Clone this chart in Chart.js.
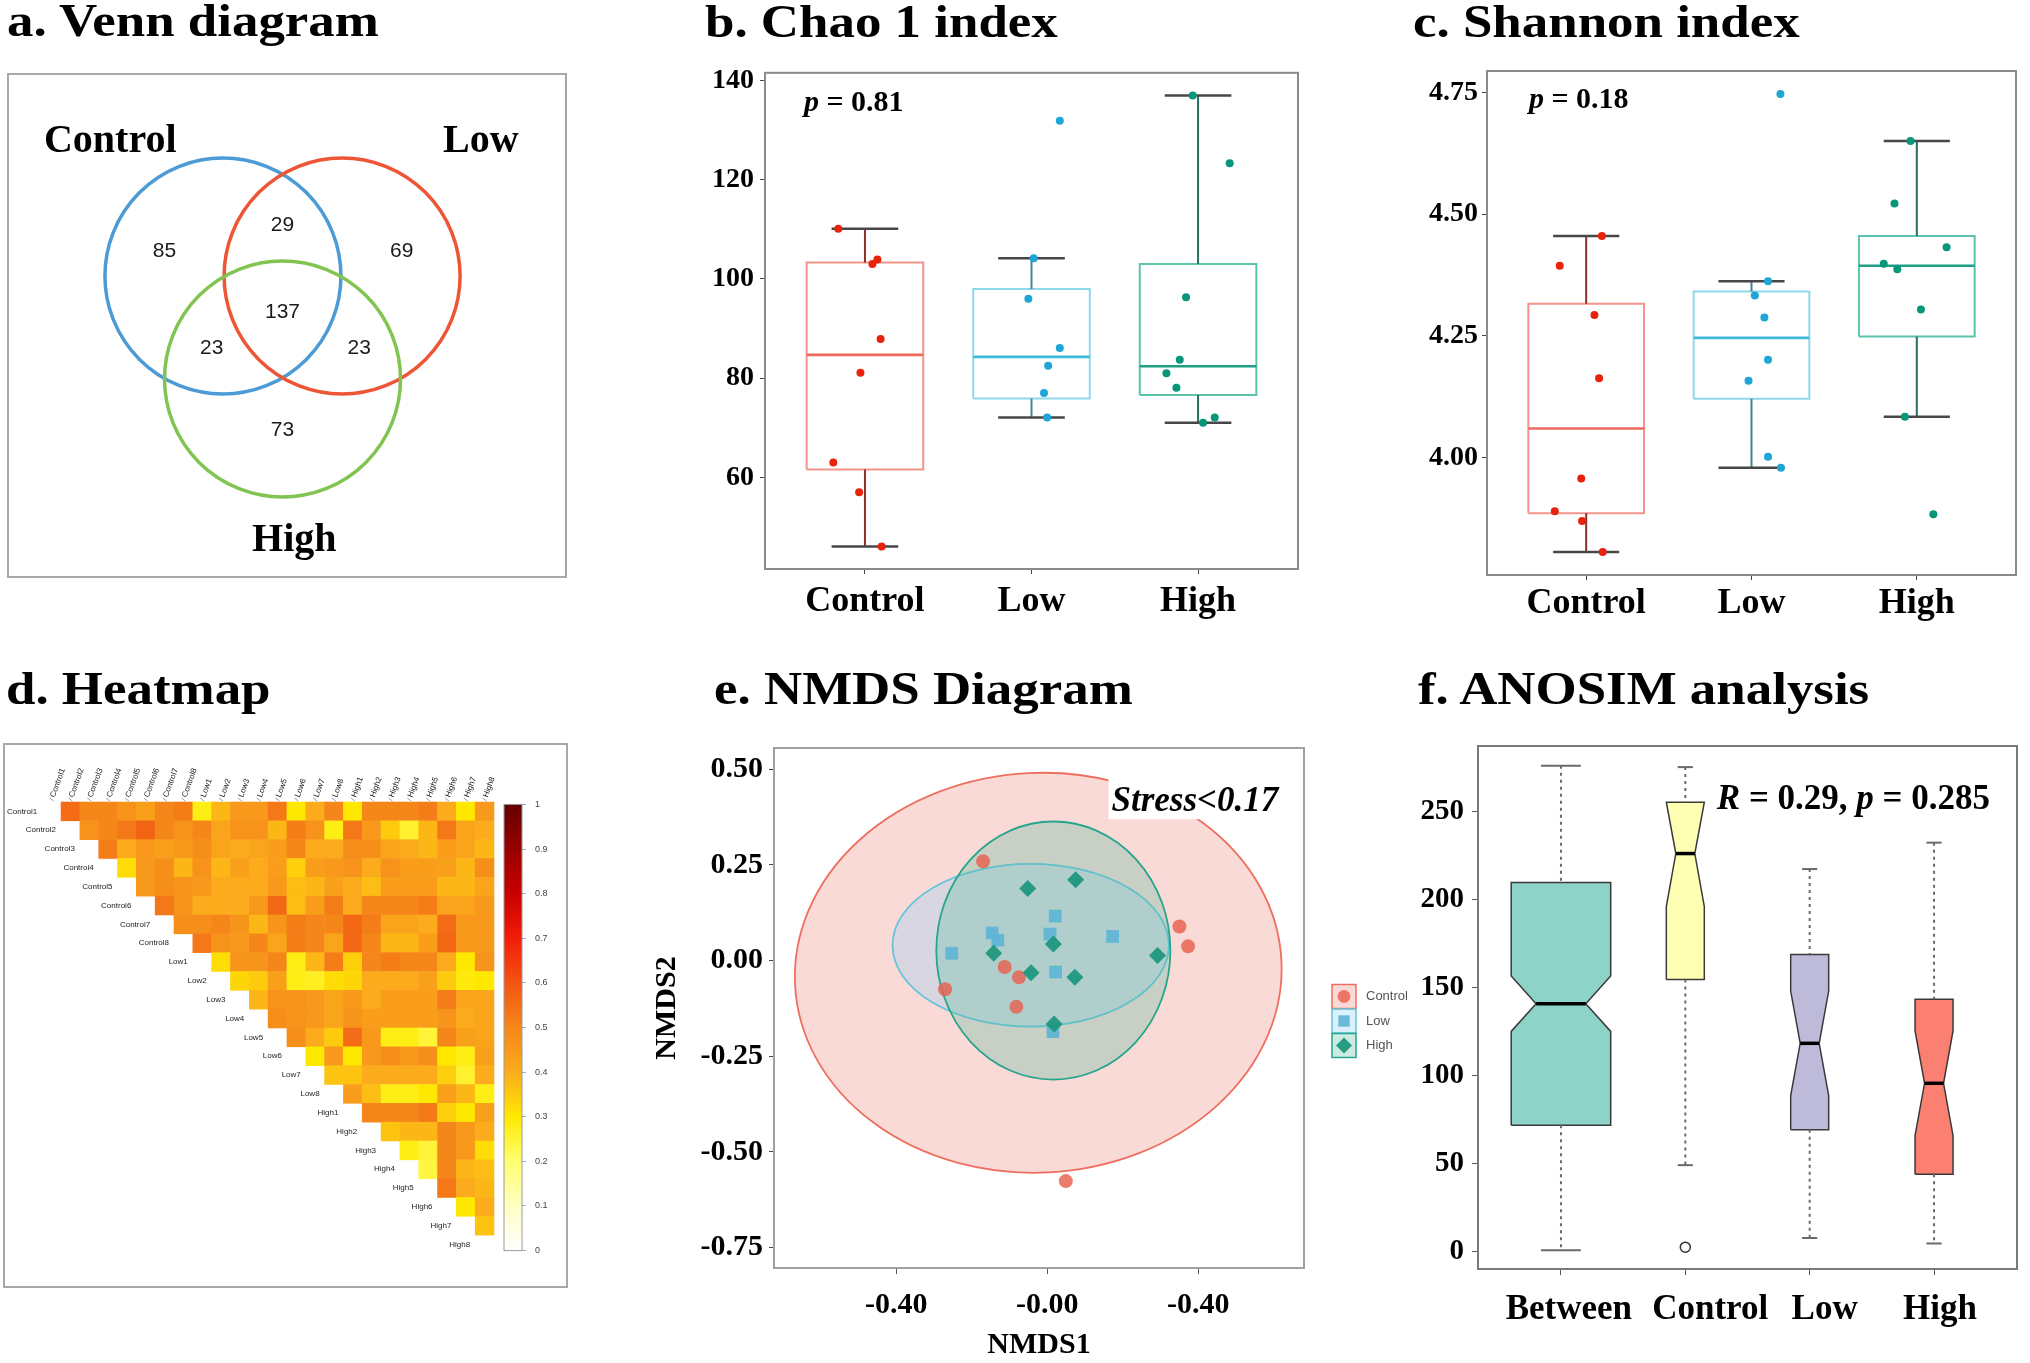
<!DOCTYPE html>
<html>
<head>
<meta charset="utf-8">
<title>Diversity panels</title>
<script src="https://cdn.jsdelivr.net/npm/chart.js@4.4.1/dist/chart.umd.min.js"></script>
<style>
  html, body { margin: 0; padding: 0; background: #fff; }
  body { width: 2030px; height: 1363px; position: relative; overflow: hidden; }
  canvas, .box, .title { position: absolute; }
  .title { font: bold 46px 'Liberation Serif', 'Times New Roman', serif; line-height: 46px; color: #000;
           white-space: nowrap; transform: scaleX(1.15); transform-origin: left top; }
  .box { border: 2px solid #a8a8a8; box-sizing: border-box; pointer-events: none; }
</style>
</head>
<body>
<div class="title" style="left:7px;top:-2px">a. Venn diagram</div>
<div class="title" style="left:705px;top:-1px">b. Chao 1 index</div>
<div class="title" style="left:1413px;top:-1px">c. Shannon index</div>
<div class="title" style="left:6px;top:666px">d. Heatmap</div>
<div class="title" style="left:714px;top:666px">e. NMDS Diagram</div>
<div class="title" style="left:1418px;top:666px">f. ANOSIM analysis</div>

<canvas id="venn" width="560" height="505" style="left:7px;top:73px"></canvas>
<div class="box" style="left:7px;top:73px;width:560px;height:505px"></div>

<canvas id="chao" width="640" height="600" style="left:680px;top:50px"></canvas>
<canvas id="shannon" width="630" height="610" style="left:1400px;top:50px"></canvas>

<canvas id="heat" width="565" height="545" style="left:3px;top:743px"></canvas>
<canvas id="cbar" width="66" height="475" style="left:500px;top:790px"></canvas>
<div class="box" style="left:3px;top:743px;width:565px;height:545px"></div>

<canvas id="nmds" width="790" height="643" style="left:640px;top:720px"></canvas>
<canvas id="anosim" width="630" height="643" style="left:1400px;top:720px"></canvas>

<script>
// ---- data ----
const groups = ['Control', 'Low', 'High'];

// a. Venn diagram (circle centres in radius units, counts per region)
const vennSets = ['Control', 'Low', 'High'];
const vennCenterX = [-0.505, 0.505, 0];
const vennCenterY = [0, 0, -0.873];
const vennRadius = 1;
const vennCounts = [85, 29, 69, 137, 23, 23, 73];
const vennCountX = [-1.0, 0.0, 1.01, 0.0, -0.6, 0.65, 0.0];
const vennCountY = [0.21, 0.43, 0.21, -0.31, -0.61, -0.61, -1.31];
const vennNameX = [-1.46, 1.68, 0.10];
const vennNameY = [1.05, 1.05, -2.33];

// b. Chao 1 index
const chaoMin = [46.1, 72.1, 71.0];
const chaoQ1 = [61.6, 75.9, 76.6];
const chaoMedian = [84.7, 84.3, 82.4];
const chaoQ3 = [103.3, 98.0, 103.0];
const chaoMax = [110.1, 104.2, 137.0];
const chaoPoints = [
  [110.1, 103.0, 103.9, 87.9, 81.1, 63.0, 57.0, 46.1],
  [131.9, 104.2, 96.0, 86.1, 82.5, 77.0, 72.1],
  [137.0, 123.3, 96.3, 83.7, 81.0, 78.1, 72.1, 71.0]
];
const chaoJitter = [
  [-0.16, 0.045, 0.075, 0.094, -0.027, -0.19, -0.035, 0.1],
  [0.17, 0.013, -0.019, 0.17, 0.10, 0.075, 0.094],
  [-0.032, 0.19, -0.072, -0.11, -0.19, -0.13, 0.10, 0.03]
];
const chaoTicks = [60, 80, 100, 120, 140];

// c. Shannon index
const shanMin = [3.806, 3.979, 4.084];
const shanQ1 = [3.886, 4.121, 4.249];
const shanMedian = [4.060, 4.246, 4.394];
const shanQ3 = [4.316, 4.341, 4.455];
const shanMax = [4.455, 4.362, 4.650];
const shanPoints = [
  [4.455, 4.394, 4.293, 4.163, 3.957, 3.890, 3.870, 3.806],
  [4.747, 4.362, 4.333, 4.288, 4.201, 4.158, 4.002, 3.979],
  [4.650, 4.522, 4.432, 4.398, 4.387, 4.304, 4.084, 3.884]
];
const shanJitter = [
  [0.095, -0.16, 0.05, 0.078, -0.03, -0.19, -0.025, 0.10],
  [0.175, 0.10, 0.02, 0.078, 0.10, -0.018, 0.10, 0.178],
  [-0.038, -0.135, 0.18, -0.2, -0.118, 0.025, -0.072, 0.10]
];
const shanTicks = [4.00, 4.25, 4.50, 4.75];

// d. Heatmap (upper triangle, row i holds columns i+1 .. 23)
const sampleNames = ['Control1', 'Control2', 'Control3', 'Control4', 'Control5', 'Control6', 'Control7', 'Control8',
  'Low1', 'Low2', 'Low3', 'Low4', 'Low5', 'Low6', 'Low7', 'Low8',
  'High1', 'High2', 'High3', 'High4', 'High5', 'High6', 'High7', 'High8'];
const corrRows = [
  [0.55, 0.5, 0.5, 0.47, 0.43, 0.5, 0.52, 0.28, 0.38, 0.45, 0.45, 0.53, 0.3, 0.4, 0.5, 0.3, 0.5, 0.5, 0.5, 0.52, 0.4, 0.3, 0.45],
  [0.47, 0.5, 0.53, 0.57, 0.5, 0.47, 0.5, 0.42, 0.47, 0.47, 0.38, 0.52, 0.47, 0.28, 0.53, 0.45, 0.35, 0.26, 0.38, 0.53, 0.42, 0.4],
  [0.52, 0.4, 0.45, 0.43, 0.45, 0.48, 0.42, 0.4, 0.42, 0.44, 0.5, 0.4, 0.4, 0.48, 0.48, 0.42, 0.4, 0.38, 0.44, 0.42, 0.38],
  [0.32, 0.45, 0.48, 0.38, 0.47, 0.38, 0.43, 0.4, 0.44, 0.34, 0.44, 0.45, 0.47, 0.4, 0.47, 0.44, 0.44, 0.43, 0.38, 0.48],
  [0.45, 0.48, 0.47, 0.45, 0.4, 0.4, 0.4, 0.45, 0.37, 0.38, 0.43, 0.4, 0.37, 0.44, 0.44, 0.44, 0.38, 0.38, 0.42],
  [0.53, 0.47, 0.4, 0.4, 0.4, 0.45, 0.56, 0.37, 0.44, 0.52, 0.4, 0.5, 0.5, 0.5, 0.52, 0.42, 0.42, 0.45],
  [0.48, 0.48, 0.5, 0.46, 0.38, 0.46, 0.52, 0.5, 0.5, 0.56, 0.52, 0.42, 0.42, 0.4, 0.55, 0.45, 0.45],
  [0.53, 0.47, 0.45, 0.5, 0.42, 0.52, 0.5, 0.42, 0.56, 0.5, 0.38, 0.38, 0.44, 0.56, 0.45, 0.45],
  [0.32, 0.46, 0.46, 0.5, 0.28, 0.38, 0.52, 0.34, 0.5, 0.52, 0.5, 0.5, 0.4, 0.3, 0.47],
  [0.33, 0.35, 0.43, 0.28, 0.27, 0.32, 0.33, 0.4, 0.4, 0.4, 0.43, 0.35, 0.29, 0.3],
  [0.38, 0.47, 0.46, 0.45, 0.42, 0.45, 0.4, 0.44, 0.44, 0.44, 0.52, 0.42, 0.42],
  [0.48, 0.46, 0.45, 0.42, 0.46, 0.44, 0.44, 0.44, 0.44, 0.46, 0.4, 0.42],
  [0.48, 0.4, 0.35, 0.55, 0.45, 0.28, 0.28, 0.25, 0.5, 0.43, 0.42],
  [0.3, 0.45, 0.3, 0.45, 0.48, 0.45, 0.48, 0.3, 0.28, 0.43],
  [0.36, 0.36, 0.4, 0.4, 0.4, 0.4, 0.34, 0.26, 0.4],
  [0.44, 0.37, 0.28, 0.28, 0.3, 0.43, 0.38, 0.28],
  [0.5, 0.5, 0.5, 0.53, 0.34, 0.3, 0.43],
  [0.36, 0.38, 0.38, 0.5, 0.45, 0.4],
  [0.28, 0.25, 0.5, 0.45, 0.32],
  [0.24, 0.5, 0.38, 0.37],
  [0.53, 0.4, 0.38],
  [0.3, 0.4],
  [0.36]
];
const colorbarTicks = [0, 0.1, 0.2, 0.3, 0.4, 0.5, 0.6, 0.7, 0.8, 0.9, 1];

// e. NMDS
const nmdsX = [
  [-0.170, 0.350, 0.373, -0.113, -0.075, -0.271, -0.082, 0.049],
  [0.021, -0.146, -0.131, 0.007, 0.173, -0.253, 0.022, 0.015],
  [0.075, -0.052, 0.016, -0.142, 0.292, -0.043, 0.073, 0.018]
];
const nmdsY = [
  [0.259, 0.089, 0.037, -0.017, -0.044, -0.075, -0.121, -0.576],
  [0.116, 0.072, 0.053, 0.069, 0.063, 0.019, -0.030, -0.186],
  [0.211, 0.188, 0.043, 0.019, 0.013, -0.032, -0.044, -0.166]
];
const ellipseCx = [-0.024, -0.044, 0.016];
const ellipseCy = [-0.032, 0.040, 0.026];
const ellipseRx = [0.645, 0.366, 0.310];
const ellipseRy = [0.522, 0.2125, 0.337];
const ellipseTilt = [-0.05, 0, 0];
const nmdsXTicks = [-0.4, 0, 0.4];
const nmdsXTickLabels = ['-0.40', '-0.00', '-0.40'];
const nmdsYTicks = [-0.75, -0.5, -0.25, 0, 0.25, 0.5];

// f. ANOSIM
const anoGroups = ['Between', 'Control', 'Low', 'High'];
const anoN = [192, 28, 28, 28];
const anoMin = [0.5, 48.9, 7.5, 4.4];
const anoQ1 = [71.6, 154.3, 69.0, 43.7];
const anoMedian = [140.6, 225.9, 118.1, 95.4];
const anoQ3 = [209.4, 255.1, 168.5, 143.2];
const anoMax = [275.8, 275.0, 217.1, 232.1];
const anoOutlierGroup = [1];
const anoOutlierValue = [2.3];
const anoTicks = [0, 50, 100, 150, 200, 250];

// ---- styles ----
const SERIF = "'Liberation Serif', 'Times New Roman', serif";
const SANS = "'Liberation Sans', Arial, sans-serif";
const vennColors = ['#4d9bd6', '#ee5535', '#82c452'];
const groupColors = [
  { box: '#f4948a', median: '#ee6a5e', whisker: '#8c2f24', point: '#e8230c' },
  { box: '#8fd8ea', median: '#3db9da', whisker: '#4b7f8f', point: '#1ea7d6' },
  { box: '#5cc4ad', median: '#1f9e86', whisker: '#25705f', point: '#07967a' }
];
const heatStops = [
  [0, '#ffffff'], [0.1, '#ffffc4'], [0.2, '#ffff70'], [0.3, '#ffe800'], [0.4, '#fbab1c'],
  [0.5, '#f5871a'], [0.6, '#f25412'], [0.7, '#f31c08'], [0.8, '#c80000'], [0.9, '#980000'], [1, '#640000']
];
const nmdsShapes = ['circle', 'rect', 'rectRot'];
const nmdsRadius = [7, 9, 8.5];
const nmdsPointColors = ['rgba(232,96,78,0.82)', 'rgba(90,180,212,0.88)', 'rgba(26,150,124,0.92)'];
const ellipseFill = ['rgba(238,132,118,0.3)', 'rgba(137,205,247,0.3)', 'rgba(83,185,154,0.3)'];
const ellipseLine = ['#ee6f5f', '#67c4dd', '#25a58c'];
const anoColors = ['#8dd3c7', '#ffffb3', '#bebada', '#fb8072'];
const anoLabelShift = [0.064, 0.2, 0.12, 0.048];

Chart.defaults.animation = false;
Chart.defaults.events = [];
Chart.defaults.plugins.legend.display = false;
Chart.defaults.plugins.tooltip.enabled = false;

// ---- helpers ----
const pxPerUnit = s => Math.abs(s.getPixelForValue(1) - s.getPixelForValue(0));
const boldSerif = size => ({ family: SERIF, size, weight: 'bold' });
const fixedTicks = values => s => { s.ticks = values.map(v => ({ value: v })); };
const fixedWidth = w => s => { s.width = w; };
const fixedHeight = h => s => { s.height = h; };

function hexToRgb(h) { return [1, 3, 5].map(i => parseInt(h.slice(i, i + 2), 16)); }
function heatColor(v) {
  for (let k = 1; k < heatStops.length; k++) {
    const [v1, c1] = heatStops[k];
    if (v <= v1) {
      const [v0, c0] = heatStops[k - 1];
      const t = (v - v0) / (v1 - v0);
      const a = hexToRgb(c0), b = hexToRgb(c1);
      return `rgb(${a.map((x, i) => Math.round(x + (b[i] - x) * t)).join(',')})`;
    }
  }
  return heatStops[heatStops.length - 1][1];
}

function drawRich(ctx, parts, x, y, size) {
  ctx.save();
  ctx.textBaseline = 'alphabetic';
  ctx.textAlign = 'left';
  ctx.fillStyle = '#000';
  let cx = x;
  parts.forEach(([txt, italic]) => {
    ctx.font = `${italic ? 'italic ' : ''}bold ${size}px ${SERIF}`;
    ctx.fillText(txt, cx, y);
    cx += ctx.measureText(txt).width;
  });
  ctx.restore();
}

function framePlugin(color, width) {
  return {
    id: 'frame',
    afterDraw(chart) {
      const { ctx, chartArea: a } = chart;
      ctx.save();
      ctx.strokeStyle = color;
      ctx.lineWidth = width;
      ctx.strokeRect(a.left, a.top, a.right - a.left, a.bottom - a.top);
      ctx.restore();
    }
  };
}

function richPlugin(parts, size, xv, yv) {
  return {
    id: 'richText',
    afterDraw(chart) {
      drawRich(chart.ctx, parts, chart.scales.x.getPixelForValue(xv), chart.scales.y.getPixelForValue(yv), size);
    }
  };
}

function tickAxis(opts) {
  return Object.assign({
    type: 'linear',
    grid: { drawOnChartArea: false, tickLength: 5, color: '#444' },
    border: { display: false }
  }, opts);
}

// ---- a. Venn ----
new Chart('venn', {
  type: 'scatter',
  data: {
    datasets: [{
      data: vennSets.map((s, i) => ({ x: vennCenterX[i], y: vennCenterY[i] })),
      pointRadius: c => pxPerUnit(c.chart.scales.x) * vennRadius,
      pointBackgroundColor: 'rgba(0,0,0,0)',
      pointBorderColor: vennColors,
      pointBorderWidth: 3.5,
      clip: false
    }]
  },
  options: {
    responsive: false,
    devicePixelRatio: 1,
    layout: { padding: 0 },
    scales: {
      x: { type: 'linear', display: false, min: -2.335, max: 2.411 },
      y: { type: 'linear', display: false, min: -2.559, max: 1.720 }
    }
  },
  plugins: [{
    id: 'vennText',
    afterDraw(chart) {
      const { ctx } = chart, xs = chart.scales.x, ys = chart.scales.y;
      ctx.save();
      ctx.fillStyle = '#1a1a1a';
      ctx.font = `21px ${SANS}`;
      ctx.textAlign = 'center';
      ctx.textBaseline = 'middle';
      vennCounts.forEach((n, i) => ctx.fillText(String(n), xs.getPixelForValue(vennCountX[i]), ys.getPixelForValue(vennCountY[i])));
      ctx.fillStyle = '#000';
      ctx.font = `bold 40px ${SERIF}`;
      ctx.textBaseline = 'alphabetic';
      vennSets.forEach((s, i) => ctx.fillText(s, xs.getPixelForValue(vennNameX[i]), ys.getPixelForValue(vennNameY[i])));
      ctx.restore();
    }
  }]
});

// ---- b / c. box plots with jittered samples ----
function boxPlot(id, stats, points, jitter, cfg) {
  const boxHalf = 0.35, capHalf = 0.2;
  const datasets = [];
  groups.forEach((g, i) => datasets.push({
    type: 'scatter',
    data: points[i].map((v, k) => ({ x: i + jitter[i][k], y: v })),
    pointRadius: 4,
    pointBackgroundColor: groupColors[i].point,
    pointBorderWidth: 0
  }));
  groups.forEach((g, i) => {
    datasets.push({
      type: 'scatter',
      data: [{ x: i, y: stats.max[i] }, { x: i, y: stats.min[i] }],
      pointStyle: 'line',
      pointRadius: c => pxPerUnit(c.chart.scales.x) * capHalf,
      pointBorderColor: '#474747',
      pointBorderWidth: 2.5
    });
    datasets.push({
      type: 'line',
      data: [{ x: i, y: stats.max[i] }, { x: i, y: stats.q3[i] }, { x: i, y: null },
             { x: i, y: stats.q1[i] }, { x: i, y: stats.min[i] }],
      borderColor: groupColors[i].whisker, borderWidth: 2, pointRadius: 0
    });
    datasets.push({
      type: 'line',
      data: [{ x: i - boxHalf, y: stats.median[i] }, { x: i + boxHalf, y: stats.median[i] }],
      borderColor: groupColors[i].median, borderWidth: 2.6, pointRadius: 0
    });
    datasets.push({
      type: 'line',
      data: [{ x: i - boxHalf, y: stats.q1[i] }, { x: i + boxHalf, y: stats.q1[i] }, { x: i + boxHalf, y: stats.q3[i] },
             { x: i - boxHalf, y: stats.q3[i] }, { x: i - boxHalf, y: stats.q1[i] }],
      borderColor: groupColors[i].box, borderWidth: 2, pointRadius: 0
    });
  });

  new Chart(id, {
    type: 'scatter',
    data: { datasets },
    options: {
      responsive: false,
      devicePixelRatio: 1,
      layout: { padding: cfg.padding },
      scales: {
        x: tickAxis({
          min: -0.6, max: 2.6,
          afterBuildTicks: fixedTicks([0, 1, 2]),
          ticks: { callback: v => groups[v], font: boldSerif(36), color: '#000', padding: cfg.xPad, autoSkip: false, maxRotation: 0 },
          afterFit: fixedHeight(cfg.xHeight)
        }),
        y: tickAxis({
          min: cfg.yMin, max: cfg.yMax,
          afterBuildTicks: fixedTicks(cfg.yTicks),
          ticks: { callback: cfg.fmt, font: boldSerif(28), color: '#000', padding: cfg.yPad },
          afterFit: fixedWidth(cfg.yWidth)
        })
      }
    },
    plugins: [framePlugin('#8a8a8a', 2), richPlugin(cfg.label, 30, cfg.labelX, cfg.labelY)]
  });
}

boxPlot('chao',
  { min: chaoMin, q1: chaoQ1, median: chaoMedian, q3: chaoQ3, max: chaoMax }, chaoPoints, chaoJitter,
  { padding: { top: 19, right: 22, left: 0, bottom: 0 }, xHeight: 81, yWidth: 85, xPad: 6, yPad: 6,
    yMin: 41.55, yMax: 141.55, yTicks: chaoTicks, fmt: v => String(v),
    label: [['p', true], [' = 0.81', false]], labelX: -0.366, labelY: 133.9 });

boxPlot('shannon',
  { min: shanMin, q1: shanQ1, median: shanMedian, q3: shanQ3, max: shanMax }, shanPoints, shanJitter,
  { padding: { top: 21, right: 14, left: 0, bottom: 0 }, xHeight: 85, yWidth: 87, xPad: 2, yPad: 4,
    yMin: 3.759, yMax: 4.794, yTicks: shanTicks, fmt: v => v.toFixed(2),
    label: [['p', true], [' = 0.18', false]], labelX: -0.346, labelY: 4.719 });

// ---- d. heatmap ----
const cellData = [];
corrRows.forEach((row, i) => row.forEach((v, k) => cellData.push({ x: i + 1 + k, y: i, v })));

new Chart('heat', {
  type: 'scatter',
  data: {
    datasets: [{
      data: cellData,
      pointStyle: 'rect',
      pointRadius: c => (pxPerUnit(c.chart.scales.x) + 0.6) / Math.SQRT2,
      pointBackgroundColor: c => (c.raw ? heatColor(c.raw.v) : '#fff'),
      pointBorderWidth: 0,
      clip: false
    }]
  },
  options: {
    responsive: false,
    devicePixelRatio: 1,
    layout: { padding: { left: 39.2, top: 59, right: 74, bottom: 34 } },
    scales: {
      x: { type: 'linear', display: false, min: -0.5, max: 23.5 },
      y: { type: 'linear', display: false, min: -0.5, max: 23.5, reverse: true }
    }
  },
  plugins: [{
    id: 'heatLabels',
    afterDraw(chart) {
      const { ctx } = chart, xs = chart.scales.x, ys = chart.scales.y;
      const top = ys.getPixelForValue(-0.5);
      ctx.save();
      ctx.font = `8px ${SANS}`;
      ctx.fillStyle = '#222';
      sampleNames.forEach((name, i) => {
        ctx.textAlign = 'right';
        ctx.textBaseline = 'middle';
        ctx.fillText(name, xs.getPixelForValue(i - 0.5) - 5, ys.getPixelForValue(i));
        const cx = xs.getPixelForValue(i);
        ctx.save();
        ctx.translate(cx + 1, top - 5);
        ctx.rotate(-1.22);
        ctx.textAlign = 'left';
        ctx.fillText(name, 0, 0);
        ctx.restore();
        ctx.strokeStyle = '#7ea6d8';
        ctx.lineWidth = 1;
        ctx.beginPath();
        ctx.moveTo(cx - 2, top - 4);
        ctx.lineTo(cx + 2, top - 1);
        ctx.stroke();
      });
      ctx.restore();
    }
  }]
});

new Chart('cbar', {
  type: 'bar',
  data: {
    labels: [''],
    datasets: [{
      data: [[0, 1]],
      barPercentage: 1,
      categoryPercentage: 1,
      borderWidth: 0,
      backgroundColor: c => {
        const a = c.chart.chartArea;
        if (!a) return '#fff';
        const g = c.chart.ctx.createLinearGradient(0, a.bottom, 0, a.top);
        heatStops.forEach(([v, col]) => g.addColorStop(v, col));
        return g;
      }
    }]
  },
  options: {
    responsive: false,
    devicePixelRatio: 1,
    layout: { padding: { left: 4, top: 11, right: 0, bottom: 13 } },
    scales: {
      x: { display: false },
      y: {
        position: 'right', min: 0, max: 1,
        afterBuildTicks: fixedTicks(colorbarTicks),
        ticks: { callback: v => (v === 0 || v === 1 ? String(v) : v.toFixed(1)), font: { family: SANS, size: 9 }, color: '#444', padding: 9 },
        grid: { drawOnChartArea: false, tickLength: 4, color: '#8fb0d8' },
        border: { display: false },
        afterFit: fixedWidth(44)
      }
    }
  },
  plugins: [framePlugin('#9a9a9a', 1)]
});

// ---- e. NMDS ----
function drawMarker(ctx, shape, x, y, r, color) {
  ctx.fillStyle = color;
  ctx.beginPath();
  if (shape === 'circle') ctx.arc(x, y, r, 0, 2 * Math.PI);
  else if (shape === 'rect') { const s = r * Math.SQRT1_2; ctx.rect(x - s, y - s, 2 * s, 2 * s); }
  else { ctx.moveTo(x, y - r); ctx.lineTo(x + r, y); ctx.lineTo(x, y + r); ctx.lineTo(x - r, y); ctx.closePath(); }
  ctx.fill();
}

new Chart('nmds', {
  type: 'scatter',
  data: {
    datasets: groups.map((g, i) => ({
      label: g,
      data: nmdsX[i].map((x, k) => ({ x, y: nmdsY[i][k] })),
      pointStyle: nmdsShapes[i],
      pointRadius: nmdsRadius[i],
      pointBackgroundColor: nmdsPointColors[i],
      pointBorderWidth: 0
    })).reverse()
  },
  options: {
    responsive: false,
    devicePixelRatio: 1,
    layout: { padding: { top: 28, right: 126, left: 0, bottom: 0 } },
    scales: {
      x: tickAxis({
        min: -0.724, max: 0.680,
        afterBuildTicks: fixedTicks(nmdsXTicks),
        ticks: { callback: (v, i) => nmdsXTickLabels[i], font: boldSerif(30), color: '#000', padding: 13, autoSkip: false, maxRotation: 0 },
        grid: { drawOnChartArea: false, tickLength: 6, color: '#555' },
        title: { display: true, text: 'NMDS1', font: boldSerif(30), color: '#000', padding: { top: 0, bottom: 0 } },
        afterFit: fixedHeight(95)
      }),
      y: tickAxis({
        min: -0.803, max: 0.555,
        afterBuildTicks: fixedTicks(nmdsYTicks),
        ticks: { callback: v => v.toFixed(2), font: boldSerif(30), color: '#000', padding: 6 },
        title: { display: true, text: 'NMDS2', font: boldSerif(30), color: '#000', padding: { top: 9, bottom: 0 } },
        afterFit: fixedWidth(134)
      })
    }
  },
  plugins: [{
    id: 'ellipses',
    beforeDatasetsDraw(chart) {
      const { ctx } = chart, xs = chart.scales.x, ys = chart.scales.y;
      ctx.save();
      groups.forEach((g, i) => {
        ctx.beginPath();
        ctx.ellipse(xs.getPixelForValue(ellipseCx[i]), ys.getPixelForValue(ellipseCy[i]),
          pxPerUnit(xs) * ellipseRx[i], pxPerUnit(ys) * ellipseRy[i], ellipseTilt[i], 0, 2 * Math.PI);
        ctx.fillStyle = ellipseFill[i];
        ctx.fill();
        ctx.strokeStyle = ellipseLine[i];
        ctx.lineWidth = 1.8;
        ctx.stroke();
      });
      ctx.restore();
    },
    afterDatasetsDraw(chart) {
      const { ctx } = chart;
      const x = chart.scales.x.getPixelForValue(0.170), y = chart.scales.y.getPixelForValue(0.39);
      ctx.save();
      ctx.font = `italic bold 35px ${SERIF}`;
      const w = ctx.measureText('Stress<0.17').width;
      ctx.fillStyle = '#fff';
      ctx.fillRect(x - 3, y - 34, w + 6, 42);
      ctx.restore();
      drawRich(ctx, [['Stress<0.17', true]], x, y, 35);
    }
  }, {
    id: 'nmdsLegend',
    afterDraw(chart) {
      const { ctx, chartArea: a } = chart;
      const left = a.right + 28, mid = (a.top + a.bottom) / 2 + 13;
      groups.forEach((g, i) => {
        const cy = mid + (i - 1) * 24.5;
        ctx.save();
        ctx.fillStyle = ellipseFill[i];
        ctx.fillRect(left, cy - 12, 24, 24);
        ctx.strokeStyle = ellipseLine[i];
        ctx.lineWidth = 1.5;
        ctx.strokeRect(left, cy - 12, 24, 24);
        drawMarker(ctx, nmdsShapes[i], left + 12, cy, i === 0 ? 6.5 : 8, nmdsPointColors[i]);
        ctx.fillStyle = '#555';
        ctx.font = `13px ${SANS}`;
        ctx.textAlign = 'left';
        ctx.textBaseline = 'middle';
        ctx.fillText(g, left + 34, cy);
        ctx.restore();
      });
    }
  }, framePlugin('#a0a0a0', 2)]
});

// ---- f. ANOSIM notched box plot ----
(function () {
  const nMax = Math.max(...anoN);
  const datasets = [{
    type: 'scatter',
    data: anoOutlierGroup.map((g, k) => ({ x: g, y: anoOutlierValue[k] })),
    pointRadius: 5,
    pointBackgroundColor: 'rgba(0,0,0,0)',
    pointBorderColor: '#333',
    pointBorderWidth: 1.5
  }];
  const boxes = [];
  anoGroups.forEach((g, i) => {
    const hw = 0.4 * Math.sqrt(anoN[i] / nMax);
    const notch = 1.58 * (anoQ3[i] - anoQ1[i]) / Math.sqrt(anoN[i]);
    const nLo = Math.max(anoQ1[i], anoMedian[i] - notch);
    const nHi = Math.min(anoQ3[i], anoMedian[i] + notch);
    datasets.push({
      type: 'scatter',
      data: [{ x: i, y: anoMax[i] }, { x: i, y: anoMin[i] }],
      pointStyle: 'line',
      pointRadius: c => pxPerUnit(c.chart.scales.x) * hw * 0.4,
      pointBorderColor: '#6a6a6a',
      pointBorderWidth: 2
    });
    datasets.push({
      type: 'line',
      data: [{ x: i, y: anoMax[i] }, { x: i, y: anoQ3[i] }, { x: i, y: null }, { x: i, y: anoQ1[i] }, { x: i, y: anoMin[i] }],
      borderColor: '#6a6a6a', borderWidth: 2, borderDash: [3, 4], pointRadius: 0
    });
    datasets.push({
      type: 'line',
      data: [{ x: i - hw / 2, y: anoMedian[i] }, { x: i + hw / 2, y: anoMedian[i] }],
      borderColor: '#000', borderWidth: 3.5, pointRadius: 0
    });
    boxes.push({
      type: 'line',
      data: [
        { x: i - hw, y: anoQ1[i] }, { x: i - hw, y: nLo }, { x: i - hw / 2, y: anoMedian[i] }, { x: i - hw, y: nHi },
        { x: i - hw, y: anoQ3[i] }, { x: i + hw, y: anoQ3[i] }, { x: i + hw, y: nHi }, { x: i + hw / 2, y: anoMedian[i] },
        { x: i + hw, y: nLo }, { x: i + hw, y: anoQ1[i] }, { x: i - hw, y: anoQ1[i] }
      ],
      borderColor: '#3a3a3a', borderWidth: 1.5, pointRadius: 0,
      backgroundColor: anoColors[i], fill: 'shape'
    });
  });

  new Chart('anosim', {
    type: 'scatter',
    data: { datasets: datasets.concat(boxes) },
    options: {
      responsive: false,
      devicePixelRatio: 1,
      layout: { padding: { top: 26, right: 13, left: 0, bottom: 0 } },
      scales: {
        x: tickAxis({
          min: -0.667, max: 3.667,
          afterBuildTicks: fixedTicks([0, 1, 2, 3]),
          ticks: { callback: () => '', font: boldSerif(35), padding: 13, autoSkip: false, maxRotation: 0 },
          grid: { drawOnChartArea: false, tickLength: 6, color: '#555' },
          afterFit: fixedHeight(94)
        }),
        y: tickAxis({
          min: -10.1, max: 287,
          afterBuildTicks: fixedTicks(anoTicks),
          ticks: { font: boldSerif(29), color: '#000', padding: 8 },
          grid: { drawOnChartArea: false, tickLength: 6, color: '#555' },
          afterFit: fixedWidth(78)
        })
      }
    },
    plugins: [framePlugin('#7a7a7a', 2),
      richPlugin([['R', true], [' = 0.29, ', false], ['p', true], [' = 0.285', false]], 35, 1.253, 251.2),
      {
        id: 'anoLabels',
        afterDraw(chart) {
          const { ctx, chartArea: a } = chart, xs = chart.scales.x;
          ctx.save();
          ctx.font = `bold 35px ${SERIF}`;
          ctx.fillStyle = '#000';
          ctx.textAlign = 'center';
          ctx.textBaseline = 'alphabetic';
          anoGroups.forEach((g, i) => ctx.fillText(g, xs.getPixelForValue(i + anoLabelShift[i]), a.bottom + 50));
          ctx.restore();
        }
      }]
  });
})();
</script>
</body>
</html>
